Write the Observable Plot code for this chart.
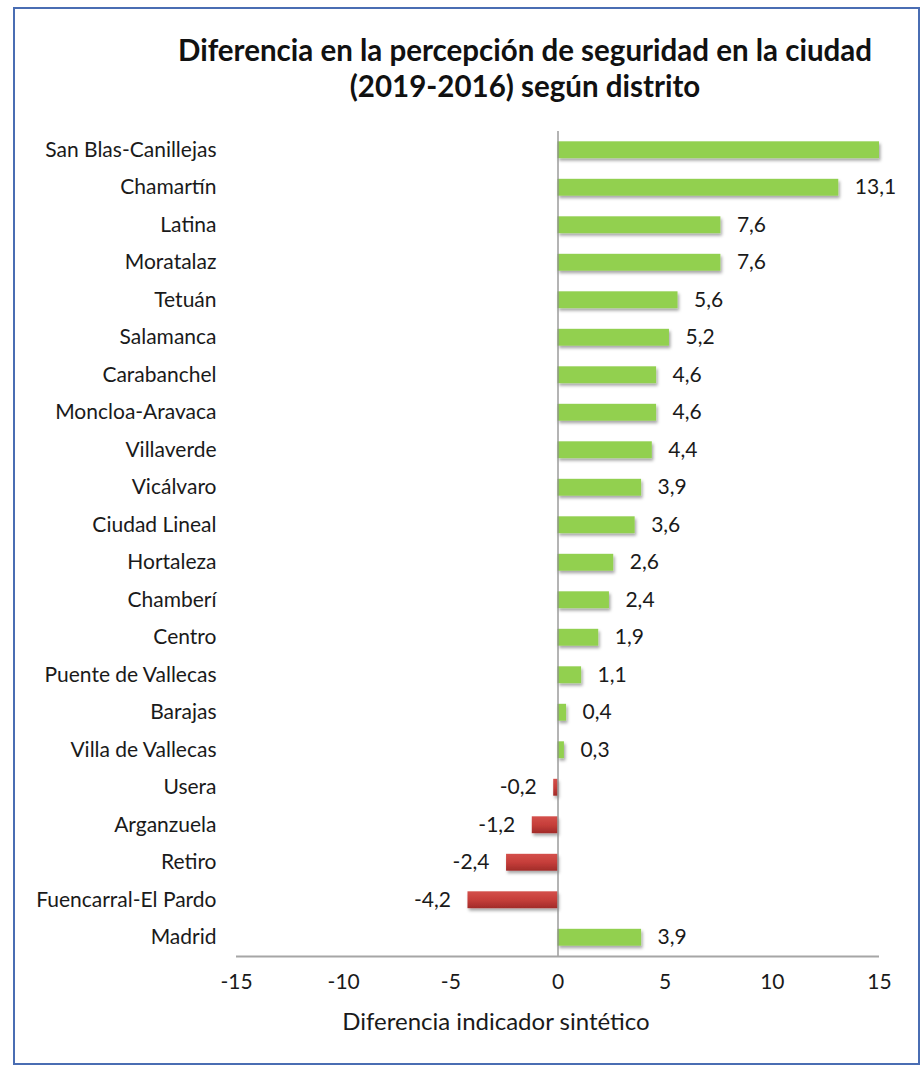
<!DOCTYPE html>
<html>
<head>
<meta charset="utf-8">
<script src="https://cdn.jsdelivr.net/npm/d3@7"></script>
<script src="https://cdn.jsdelivr.net/npm/@observablehq/plot@0.6"></script>
<style>
  html, body { margin: 0; padding: 0; background: #fff; }
  #page { position: relative; width: 924px; height: 1067px; font-family: Lato, "Open Sans", sans-serif; }
  #border { position: absolute; left: 13px; top: 7px; width: 903px; height: 1054px; border: 2px solid #4a6db3; pointer-events: none; }
  #title { position: absolute; left: 125px; top: 32px; width: 800px; text-align: center; font-weight: 700; font-size: 29.5px; line-height: 36px; color: #111; }
  #chart { position: absolute; left: 0; top: 110px; }
</style>
</head>
<body>
<div id="page">
  <div id="title"></div>
  <div id="chart"></div>
  <div id="border"></div>
</div>
<script>
const titleLines = ["Diferencia en la percepción de seguridad en la ciudad", "(2019-2016) según distrito"];
const xLabel = "Diferencia indicador sintético";
const districts = [
  "San Blas-Canillejas", "Chamartín", "Latina", "Moratalaz", "Tetuán", "Salamanca",
  "Carabanchel", "Moncloa-Aravaca", "Villaverde", "Vicálvaro", "Ciudad Lineal", "Hortaleza",
  "Chamberí", "Centro", "Puente de Vallecas", "Barajas", "Villa de Vallecas", "Usera",
  "Arganzuela", "Retiro", "Fuencarral-El Pardo", "Madrid"
];
const values = [
  15.4, 13.1, 7.6, 7.6, 5.6, 5.2,
  4.6, 4.6, 4.4, 3.9, 3.6, 2.6,
  2.4, 1.9, 1.1, 0.4, 0.3, -0.2,
  -1.2, -2.4, -4.2, 3.9
];
const xTicks = [-15, -10, -5, 0, 5, 10, 15];
const xDomain = [-15, 15];

document.getElementById("title").innerHTML = titleLines.join("<br>");

const data = districts.map((d, i) => ({district: d, value: values[i]}));
const pos = data.filter(d => d.value >= 0);
const neg = data.filter(d => d.value < 0);
const fmt = v => v.toFixed(1).replace(".", ",");
const shown = d => d.value >= xDomain[0] && d.value <= xDomain[1];

const chart = Plot.plot({
  width: 924,
  height: 950,
  marginLeft: 236,
  marginRight: 45,
  marginTop: 21,
  marginBottom: 104,
  style: {fontFamily: "Lato, 'Open Sans', sans-serif", fontSize: "21px", color: "#1a1a1a", background: "transparent", overflow: "visible"},
  x: {domain: xDomain, clamp: true, ticks: xTicks, tickSize: 0, tickPadding: 18, tickFormat: d => String(d), label: null},
  y: {domain: districts, paddingInner: 0.55, paddingOuter: 0.275, round: false, tickSize: 0, tickPadding: 20, label: null},
  marks: [
    Plot.barX(pos, {x: "value", y: "district", fill: "#92d050"}),
    Plot.barX(neg, {x: "value", y: "district", fill: "url(#redGrad)"}),
    Plot.ruleX([0], {stroke: "#8c8c8c", strokeWidth: 1.3}),
    Plot.ruleY(["Madrid"], {x1: xDomain[0], x2: xDomain[1], dy: 18.75, stroke: "#a6a6a6", strokeWidth: 2}),
    Plot.text(pos.filter(shown), {x: "value", y: "district", text: d => fmt(d.value), textAnchor: "start", dx: 16, fontSize: 21, fill: "#1a1a1a"}),
    Plot.text(neg.filter(shown), {x: "value", y: "district", text: d => fmt(d.value), textAnchor: "end", dx: -17, fontSize: 21, fill: "#1a1a1a"}),
    Plot.text([xLabel], {text: d => d, frameAnchor: "bottom", dx: -62, dy: 73, fontSize: 24, fill: "#1a1a1a"})
  ]
});

const svg = d3.select(chart);
const defs = svg.insert("defs", ":first-child");
const g = defs.append("linearGradient").attr("id", "redGrad").attr("x1", 0).attr("y1", 0).attr("x2", 0).attr("y2", 1);
g.append("stop").attr("offset", "0%").attr("stop-color", "#d4504b");
g.append("stop").attr("offset", "50%").attr("stop-color", "#c63e3a");
g.append("stop").attr("offset", "100%").attr("stop-color", "#a12b29");
const f = defs.append("filter").attr("id", "shadow").attr("x", "-10%").attr("y", "-50%").attr("width", "130%").attr("height", "220%");
f.append("feDropShadow").attr("dx", 1.5).attr("dy", 2.5).attr("stdDeviation", 1.6).attr("flood-color", "#000").attr("flood-opacity", 0.35);
svg.selectAll('g[aria-label="bar"]').attr("filter", "url(#shadow)");

document.getElementById("chart").appendChild(chart);
</script>
</body>
</html>
